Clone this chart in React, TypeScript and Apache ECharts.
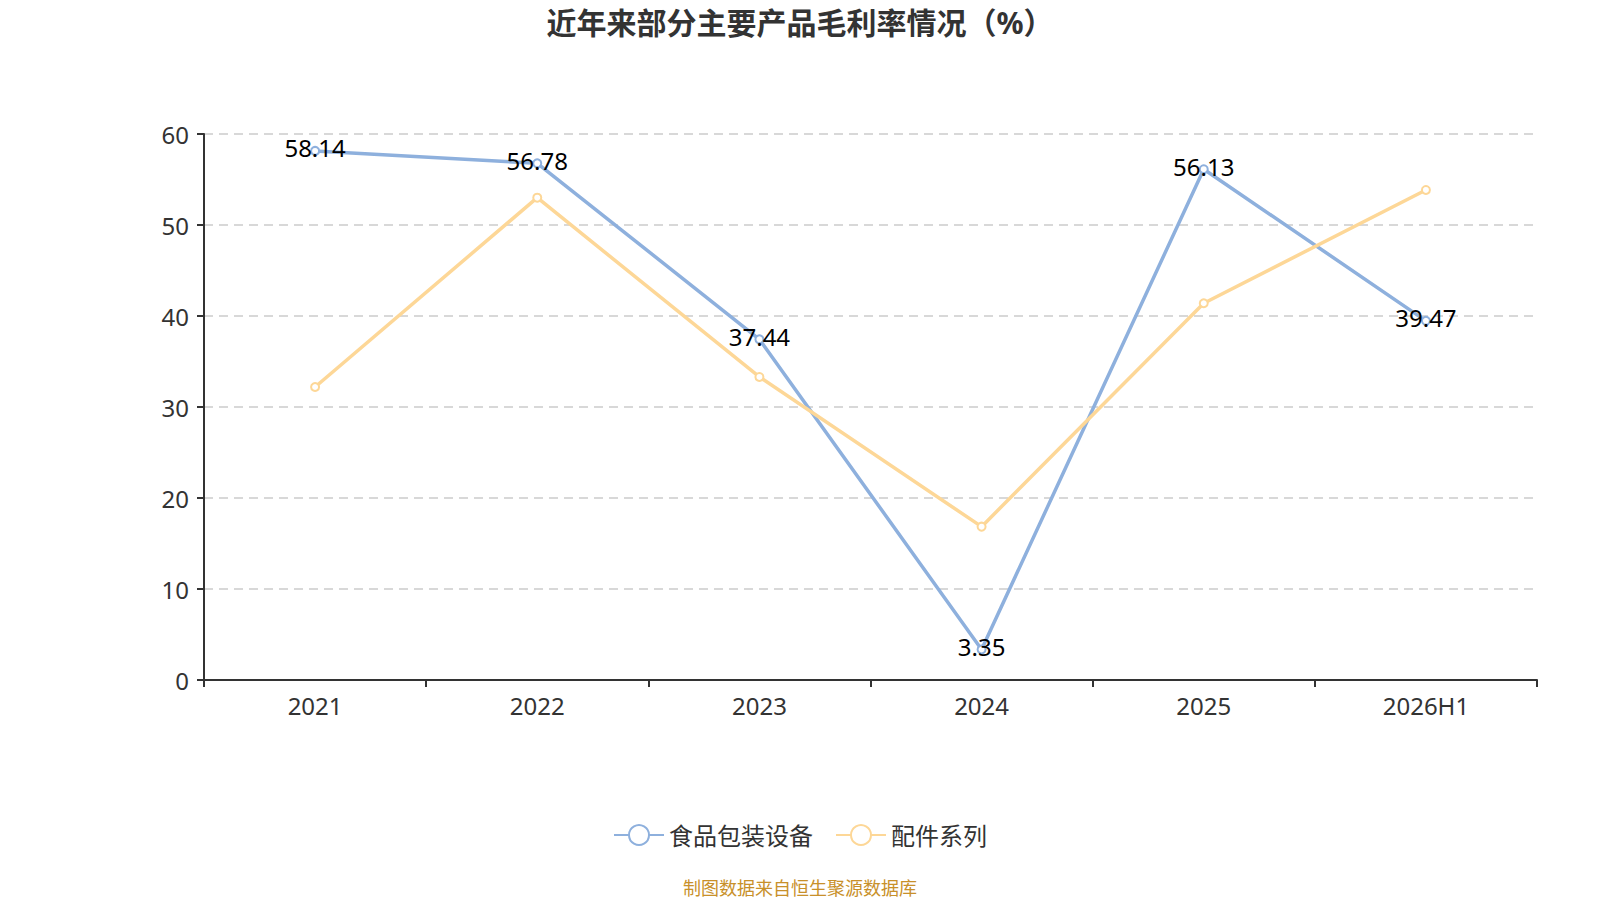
import React, { useEffect, useRef } from "react";
import * as echarts from "echarts";

const categories = ["2021", "2022", "2023", "2024", "2025", "2026H1"];
const foodPackaging = [58.14, 56.78, 37.44, 3.35, 56.13, 39.47];
const accessories = [32.2, 53.0, 33.3, 16.85, 41.4, 53.85];
const seriesNames = ["食品包装设备", "配件系列"];
const titleText = "近年来部分主要产品毛利率情况（%）";
const sourceText = "制图数据来自恒生聚源数据库";

const FONT = "'Noto Sans', 'Noto Sans CJK SC', sans-serif";

export default function App() {
  const ref = useRef<HTMLDivElement>(null);
  useEffect(() => {
    if (!ref.current) return;
    const chart = echarts.init(ref.current, undefined, { renderer: "svg" });
    chart.setOption({
      animation: false,
      backgroundColor: "#ffffff",
      textStyle: { fontFamily: FONT },
      title: {
        text: titleText,
        left: "center",
        top: 2,
        textStyle: { fontSize: 30, fontWeight: "bold", color: "#333333", fontFamily: FONT },
      },
      legend: {
        bottom: 48,
        left: "center",
        itemWidth: 50,
        itemHeight: 25,
        itemGap: 22,
        data: seriesNames,
        textStyle: { fontSize: 24, color: "#333333", fontFamily: FONT },
      },
      graphic: [
        {
          type: "text",
          left: "center",
          top: 879,
          style: {
            text: sourceText,
            fill: "#c8902a",
            fontSize: 18,
            lineHeight: 18,
            fontFamily: FONT,
          },
        },
      ],
      grid: { left: 204, right: 63, top: 134, bottom: 220, containLabel: false },
      xAxis: {
        type: "category",
        data: categories,
        boundaryGap: true,
        axisLine: { lineStyle: { color: "#333333", width: 2 } },
        axisTick: { show: true, length: 7, lineStyle: { color: "#333333", width: 2 } },
        axisLabel: { fontSize: 24, color: "#333333", margin: 13, fontFamily: FONT },
      },
      yAxis: {
        type: "value",
        min: 0,
        max: 60,
        interval: 10,
        axisLine: { show: true, lineStyle: { color: "#333333", width: 2 } },
        axisTick: { show: true, length: 7, lineStyle: { color: "#333333", width: 2 } },
        axisLabel: { fontSize: 24, color: "#333333", margin: 15, fontFamily: FONT },
        splitLine: { lineStyle: { color: "#cccccc", type: [9, 6], width: 1.5 } },
      },
      series: [
        {
          name: seriesNames[0],
          type: "line",
          data: foodPackaging,
          symbol: "emptyCircle",
          symbolSize: 8,
          itemStyle: { color: "#8eb0dd" },
          lineStyle: { width: 3.5, color: "#8eb0dd" },
          label: {
            show: true,
            position: "inside",
            offset: [0, -3],
            fontSize: 24,
            color: "#000000",
            fontFamily: FONT,
          },
        },
        {
          name: seriesNames[1],
          type: "line",
          data: accessories,
          symbol: "emptyCircle",
          symbolSize: 8,
          itemStyle: { color: "#fdd797" },
          lineStyle: { width: 3.5, color: "#fdd797" },
          label: { show: false },
        },
      ],
    });
    return () => chart.dispose();
  }, []);
  return (
    <div
      ref={ref}
      style={{ position: "fixed", left: 0, top: 0, width: 1600, height: 900 }}
    />
  );
}
